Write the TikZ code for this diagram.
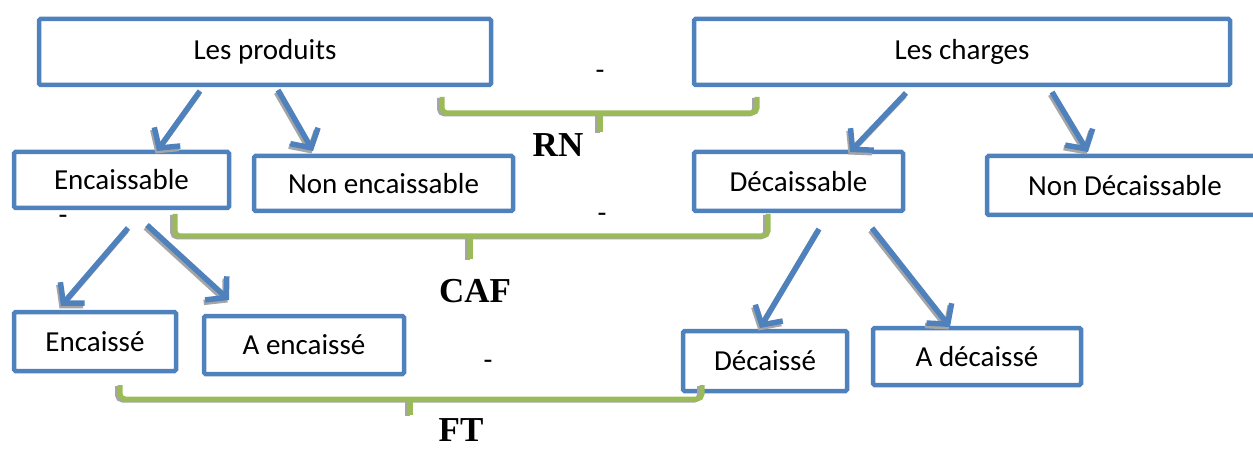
\documentclass[tikz,border=0pt]{standalone}
\usepackage{fontspec}
\setmainfont{Carlito}
\newfontfamily\labfont{Liberation Serif}
\usetikzlibrary{arrows.meta,calc}
\definecolor{boxblue}{HTML}{4F81BD}
\definecolor{bracegreen}{HTML}{9BBB59}
\definecolor{shade}{HTML}{A5A5A5}
% all blue arrows, drawn with the style given as argument
\newcommand\treearrows[1]{%
  \draw[#1] ([shift={(161,6)}]prod.south west) -- ([shift={(143,-1)}]enc.north west);
  \draw[#1] ([shift={(239,5)}]prod.south west) -- ([shift={(59,-5)}]nonenc.north west);
  \draw[#1] ([shift={(212,8)}]charg.south west) -- ([shift={(156,0)}]dec.north west);
  \draw[#1] ([shift={(358,7)}]charg.south west) -- ([shift={(101,-4)}]nondec.north west);
  \draw[#1] ([shift={(114,20)}]enc.south west) -- ([shift={(47,-6)}]encd.north west);
  \draw[#1] ([shift={(133,17)}]enc.south west) -- ([shift={(25,-16)}]aenc.north west);
  \draw[#1] ([shift={(125,18)}]dec.south west) -- ([shift={(77,-3)}]decd.north west);
  \draw[#1] ([shift={(178,17)}]dec.south west) -- ([shift={(77,-1)}]adec.north west);}
% all green brackets, drawn with the style given as argument
\newcommand\treebrackets[1]{%
  \draw[#1] ([shift={(-49,12)}]prod.south east) |- (rnH) -| ([shift={(63,12)}]charg.south west);
  \draw[#1] (rnH) -- (rnT);
  \draw[#1] ([shift={(161,6)}]enc.south west) |- (cafH) -| ([shift={(74,3)}]dec.south west);
  \draw[#1] (cafH) -- (cafT);
  \draw[#1] ([shift={(106,14)}]encd.south west) |- (ftH) -| ([shift={(19,-6)}]decd.south west);
  \draw[#1] (ftH) -- (ftT);}
\begin{document}
\begin{tikzpicture}[x=1pt,y=-1pt,
  box/.style={draw=boxblue, line width=4.5pt, rounded corners=1.5pt, fill=white,
    inner sep=0pt, outer sep=0pt, font=\fontsize{29}{34}\selectfont},
  arr/.style={draw=boxblue, line width=5.5pt,
    -{Straight Barb[length=14pt,width=32pt]}},
  arrshade/.style={arr, draw=shade},
  brace/.style={draw=bracegreen, line width=5pt, rounded corners=5pt},
  braceshade/.style={brace, draw=shade},
  lab/.style={inner sep=0pt, font=\labfont\bfseries\fontsize{35}{40}\selectfont},
  gapmark/.style={inner sep=0pt, font=\fontsize{29}{34}\selectfont}]
\useasboundingbox (0,0) rectangle (1253,449);
\clip (0,0) rectangle (1253,449);

% first level
\node[box, minimum width=452pt, minimum height=66pt] (prod) at (265,52) {Les produits};
\node[box, minimum width=536pt, minimum height=66pt] (charg) at (962,52) {Les charges};

% second level
\node[box, minimum width=215pt, minimum height=56pt] (enc) at (121.5,180) {Encaissable};
\node[box, minimum width=259pt, minimum height=55pt] (nonenc) at (383.5,183.5) {Non encaissable};
\node[box, minimum width=209pt, minimum height=59pt] (dec) at (798.5,181.5) {Décaissable};
\node[box, minimum width=300pt, minimum height=59pt] (nondec) at (1137,185.5) {\hspace*{-24pt}Non Décaissable};

% third level
\node[box, minimum width=162pt, minimum height=59pt] (encd) at (95,341.5) {Encaissé};
\node[box, minimum width=200pt, minimum height=58pt] (aenc) at (304,345) {A encaissé};
\node[box, minimum width=164pt, minimum height=60pt] (decd) at (765,361) {Décaissé};
\node[box, minimum width=208pt, minimum height=57pt] (adec) at (977,356.5) {A décaissé};

% levels of the brackets and ends of their middle ticks
\coordinate (rnH) at (600,113);
\coordinate (rnT) at (600,132);
\coordinate (cafH) at (470,236);
\coordinate (cafT) at (470,259);
\coordinate (ftH) at (410,399);
\coordinate (ftT) at (410,415);

% shadows first, then the coloured strokes
\begin{scope}[transform canvas={shift={(-2.5pt,-1pt)}}]
  \treebrackets{braceshade}
\end{scope}
\treebrackets{brace}
\begin{scope}[transform canvas={shift={(-1.5pt,-2.5pt)}}]
  \treearrows{arrshade}
\end{scope}
\treearrows{arr}

% bracket labels
\node[lab] (rn) at (558,145) {RN};
\node[lab] (caf) at (475,291) {CAF};
\node[lab] (ft) at (461,430) {FT};

% minus signs
\node[gapmark] (m1) at (600,75) {-};
\node[gapmark] (m2) at (63,220) {-};
\node[gapmark] (m3) at (602,218) {-};
\node[gapmark] (m4) at (488,365) {-};
\end{tikzpicture}
\end{document}
